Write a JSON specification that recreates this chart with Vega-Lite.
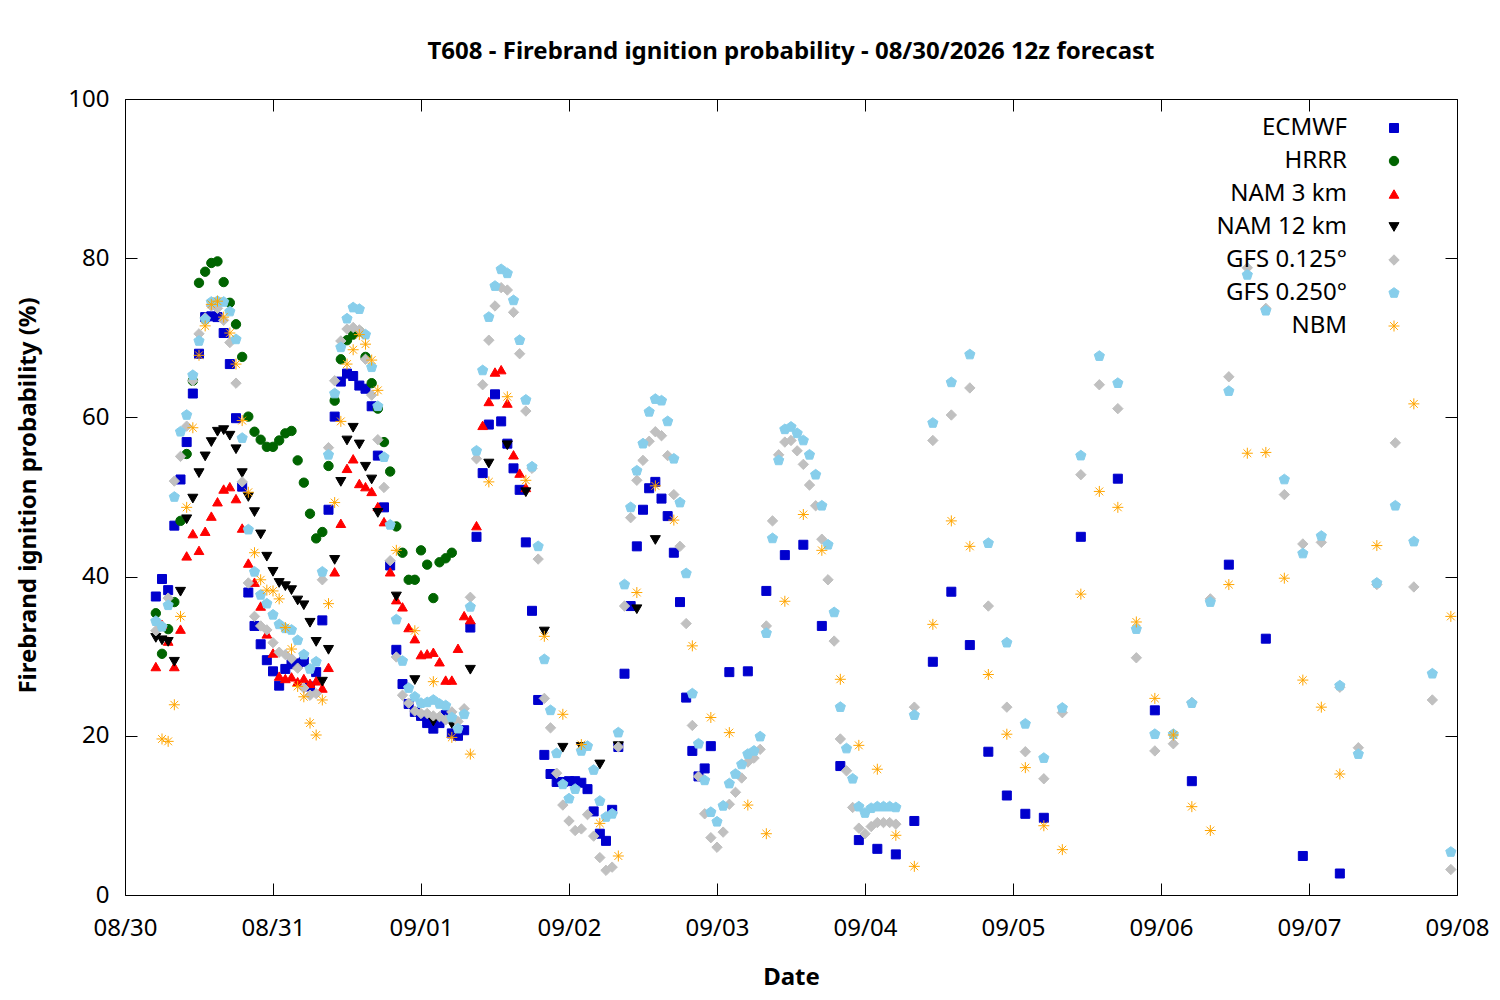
{
"$schema":"https://vega.github.io/schema/vega-lite/v6.json",
"width":1332,"height":796,"autosize":"none",
"padding":{"left":125,"top":99,"right":43,"bottom":105},
"title":{"text":"T608 - Firebrand ignition probability - 08/30/2026 12z forecast","fontSize":24,"fontWeight":"bold","anchor":"middle","offset":23,"color":"#000000"},
"config":{"font":"Noto Sans","view":{"stroke":"#000000","strokeWidth":1},
"legend":{"orient":"none","legendX":1257,"legendY":17,"title":null,"labelAlign":"right","labelOffset":-59,"labelFontSize":24,"labelColor":"#000000","rowPadding":9,"padding":0,"symbolStrokeWidth":1,"symbolOpacity":1,"labelLimit":300}},
"data":{"values":[
{"m":"ECMWF","h":5,"v":37.5},{"m":"ECMWF","h":6,"v":39.7},{"m":"ECMWF","h":7,"v":38.3},{"m":"ECMWF","h":8,"v":46.4},{"m":"ECMWF","h":9,"v":52.2},{"m":"ECMWF","h":10,"v":56.9},{"m":"ECMWF","h":11,"v":63.0},{"m":"ECMWF","h":12,"v":68.0},{"m":"ECMWF","h":13,"v":72.6},{"m":"ECMWF","h":14,"v":72.7},{"m":"ECMWF","h":15,"v":72.6},{"m":"ECMWF","h":16,"v":70.6},{"m":"ECMWF","h":17,"v":66.7},{"m":"ECMWF","h":18,"v":59.9},{"m":"ECMWF","h":19,"v":51.3},{"m":"ECMWF","h":20,"v":38.0},{"m":"ECMWF","h":21,"v":33.8},{"m":"ECMWF","h":22,"v":31.5},{"m":"ECMWF","h":23,"v":29.5},{"m":"ECMWF","h":24,"v":28.1},{"m":"ECMWF","h":25,"v":26.3},{"m":"ECMWF","h":26,"v":28.4},{"m":"ECMWF","h":27,"v":29.0},{"m":"ECMWF","h":28,"v":29.1},{"m":"ECMWF","h":29,"v":29.3},{"m":"ECMWF","h":30,"v":26.2},{"m":"ECMWF","h":31,"v":28.0},{"m":"ECMWF","h":32,"v":34.5},{"m":"ECMWF","h":33,"v":48.4},{"m":"ECMWF","h":34,"v":60.1},{"m":"ECMWF","h":35,"v":64.5},{"m":"ECMWF","h":36,"v":65.5},{"m":"ECMWF","h":37,"v":65.2},{"m":"ECMWF","h":38,"v":64.0},{"m":"ECMWF","h":39,"v":63.6},{"m":"ECMWF","h":40,"v":61.4},{"m":"ECMWF","h":41,"v":55.2},{"m":"ECMWF","h":42,"v":48.7},{"m":"ECMWF","h":43,"v":41.4},{"m":"ECMWF","h":44,"v":30.8},{"m":"ECMWF","h":45,"v":26.5},{"m":"ECMWF","h":46,"v":24.0},{"m":"ECMWF","h":47,"v":23.0},{"m":"ECMWF","h":48,"v":22.5},{"m":"ECMWF","h":49,"v":21.6},{"m":"ECMWF","h":50,"v":20.9},{"m":"ECMWF","h":51,"v":21.6},{"m":"ECMWF","h":52,"v":22.6},{"m":"ECMWF","h":53,"v":20.3},{"m":"ECMWF","h":54,"v":20.0},{"m":"ECMWF","h":55,"v":20.7},{"m":"ECMWF","h":56,"v":33.6},{"m":"ECMWF","h":57,"v":45.0},{"m":"ECMWF","h":58,"v":53.0},{"m":"ECMWF","h":59,"v":59.1},{"m":"ECMWF","h":60,"v":62.9},{"m":"ECMWF","h":61,"v":59.5},{"m":"ECMWF","h":62,"v":56.7},{"m":"ECMWF","h":63,"v":53.6},{"m":"ECMWF","h":64,"v":50.9},{"m":"ECMWF","h":65,"v":44.3},{"m":"ECMWF","h":66,"v":35.7},{"m":"ECMWF","h":67,"v":24.5},{"m":"ECMWF","h":68,"v":17.6},{"m":"ECMWF","h":69,"v":15.2},{"m":"ECMWF","h":70,"v":14.2},{"m":"ECMWF","h":71,"v":14.2},{"m":"ECMWF","h":72,"v":14.3},{"m":"ECMWF","h":73,"v":14.3},{"m":"ECMWF","h":74,"v":14.1},{"m":"ECMWF","h":75,"v":13.3},{"m":"ECMWF","h":76,"v":10.5},{"m":"ECMWF","h":77,"v":7.7},{"m":"ECMWF","h":78,"v":6.8},{"m":"ECMWF","h":79,"v":10.7},{"m":"ECMWF","h":80,"v":18.6},{"m":"ECMWF","h":81,"v":27.8},{"m":"ECMWF","h":82,"v":36.3},{"m":"ECMWF","h":83,"v":43.8},{"m":"ECMWF","h":84,"v":48.4},{"m":"ECMWF","h":85,"v":51.1},{"m":"ECMWF","h":86,"v":51.9},{"m":"ECMWF","h":87,"v":49.8},{"m":"ECMWF","h":88,"v":47.6},{"m":"ECMWF","h":89,"v":43.0},{"m":"ECMWF","h":90,"v":36.8},{"m":"ECMWF","h":91,"v":24.8},{"m":"ECMWF","h":92,"v":18.1},{"m":"ECMWF","h":93,"v":14.9},{"m":"ECMWF","h":94,"v":15.9},{"m":"ECMWF","h":95,"v":18.7},{"m":"ECMWF","h":98,"v":28.0},{"m":"ECMWF","h":101,"v":28.1},{"m":"ECMWF","h":104,"v":38.2},{"m":"ECMWF","h":107,"v":42.7},{"m":"ECMWF","h":110,"v":44.0},{"m":"ECMWF","h":113,"v":33.8},{"m":"ECMWF","h":116,"v":16.2},{"m":"ECMWF","h":119,"v":6.9},{"m":"ECMWF","h":122,"v":5.8},{"m":"ECMWF","h":125,"v":5.1},{"m":"ECMWF","h":128,"v":9.3},{"m":"ECMWF","h":131,"v":29.3},{"m":"ECMWF","h":134,"v":38.1},{"m":"ECMWF","h":137,"v":31.4},{"m":"ECMWF","h":140,"v":18.0},{"m":"ECMWF","h":143,"v":12.5},{"m":"ECMWF","h":146,"v":10.2},{"m":"ECMWF","h":149,"v":9.7},{"m":"ECMWF","h":155,"v":45.0},{"m":"ECMWF","h":161,"v":52.3},{"m":"ECMWF","h":167,"v":23.2},{"m":"ECMWF","h":173,"v":14.3},{"m":"ECMWF","h":179,"v":41.5},{"m":"ECMWF","h":185,"v":32.2},{"m":"ECMWF","h":191,"v":4.9},{"m":"ECMWF","h":197,"v":2.7},
{"m":"HRRR","h":5,"v":35.4},{"m":"HRRR","h":6,"v":30.3},{"m":"HRRR","h":7,"v":33.4},{"m":"HRRR","h":8,"v":36.8},{"m":"HRRR","h":9,"v":47.0},{"m":"HRRR","h":10,"v":55.4},{"m":"HRRR","h":11,"v":64.6},{"m":"HRRR","h":12,"v":76.9},{"m":"HRRR","h":13,"v":78.3},{"m":"HRRR","h":14,"v":79.4},{"m":"HRRR","h":15,"v":79.6},{"m":"HRRR","h":16,"v":77.0},{"m":"HRRR","h":17,"v":74.4},{"m":"HRRR","h":18,"v":71.7},{"m":"HRRR","h":19,"v":67.6},{"m":"HRRR","h":20,"v":60.1},{"m":"HRRR","h":21,"v":58.2},{"m":"HRRR","h":22,"v":57.2},{"m":"HRRR","h":23,"v":56.3},{"m":"HRRR","h":24,"v":56.3},{"m":"HRRR","h":25,"v":57.1},{"m":"HRRR","h":26,"v":58.0},{"m":"HRRR","h":27,"v":58.3},{"m":"HRRR","h":28,"v":54.6},{"m":"HRRR","h":29,"v":51.8},{"m":"HRRR","h":30,"v":47.9},{"m":"HRRR","h":31,"v":44.8},{"m":"HRRR","h":32,"v":45.6},{"m":"HRRR","h":33,"v":53.9},{"m":"HRRR","h":34,"v":62.1},{"m":"HRRR","h":35,"v":67.3},{"m":"HRRR","h":36,"v":69.7},{"m":"HRRR","h":37,"v":70.4},{"m":"HRRR","h":38,"v":70.8},{"m":"HRRR","h":39,"v":67.6},{"m":"HRRR","h":40,"v":64.3},{"m":"HRRR","h":41,"v":61.1},{"m":"HRRR","h":42,"v":56.9},{"m":"HRRR","h":43,"v":53.2},{"m":"HRRR","h":44,"v":46.3},{"m":"HRRR","h":45,"v":43.0},{"m":"HRRR","h":46,"v":39.6},{"m":"HRRR","h":47,"v":39.6},{"m":"HRRR","h":48,"v":43.3},{"m":"HRRR","h":49,"v":41.5},{"m":"HRRR","h":50,"v":37.3},{"m":"HRRR","h":51,"v":41.8},{"m":"HRRR","h":52,"v":42.3},{"m":"HRRR","h":53,"v":43.0},
{"m":"NAM 3 km","h":5,"v":28.7},{"m":"NAM 3 km","h":6,"v":34.0},{"m":"NAM 3 km","h":7,"v":31.9},{"m":"NAM 3 km","h":8,"v":28.7},{"m":"NAM 3 km","h":9,"v":33.4},{"m":"NAM 3 km","h":10,"v":42.6},{"m":"NAM 3 km","h":11,"v":45.4},{"m":"NAM 3 km","h":12,"v":43.3},{"m":"NAM 3 km","h":13,"v":45.7},{"m":"NAM 3 km","h":14,"v":47.6},{"m":"NAM 3 km","h":15,"v":49.4},{"m":"NAM 3 km","h":16,"v":51.0},{"m":"NAM 3 km","h":17,"v":51.3},{"m":"NAM 3 km","h":18,"v":49.8},{"m":"NAM 3 km","h":19,"v":46.1},{"m":"NAM 3 km","h":20,"v":41.7},{"m":"NAM 3 km","h":21,"v":39.3},{"m":"NAM 3 km","h":22,"v":36.3},{"m":"NAM 3 km","h":23,"v":32.8},{"m":"NAM 3 km","h":24,"v":30.4},{"m":"NAM 3 km","h":25,"v":27.5},{"m":"NAM 3 km","h":26,"v":27.2},{"m":"NAM 3 km","h":27,"v":27.4},{"m":"NAM 3 km","h":28,"v":26.8},{"m":"NAM 3 km","h":29,"v":27.2},{"m":"NAM 3 km","h":30,"v":26.6},{"m":"NAM 3 km","h":31,"v":26.9},{"m":"NAM 3 km","h":32,"v":26.0},{"m":"NAM 3 km","h":33,"v":28.6},{"m":"NAM 3 km","h":34,"v":40.6},{"m":"NAM 3 km","h":35,"v":46.7},{"m":"NAM 3 km","h":36,"v":53.6},{"m":"NAM 3 km","h":37,"v":54.8},{"m":"NAM 3 km","h":38,"v":51.7},{"m":"NAM 3 km","h":39,"v":51.3},{"m":"NAM 3 km","h":40,"v":50.7},{"m":"NAM 3 km","h":41,"v":48.8},{"m":"NAM 3 km","h":42,"v":46.9},{"m":"NAM 3 km","h":43,"v":40.6},{"m":"NAM 3 km","h":44,"v":37.1},{"m":"NAM 3 km","h":45,"v":36.2},{"m":"NAM 3 km","h":46,"v":33.6},{"m":"NAM 3 km","h":47,"v":32.2},{"m":"NAM 3 km","h":48,"v":30.2},{"m":"NAM 3 km","h":49,"v":30.3},{"m":"NAM 3 km","h":50,"v":30.5},{"m":"NAM 3 km","h":51,"v":29.3},{"m":"NAM 3 km","h":52,"v":27.0},{"m":"NAM 3 km","h":53,"v":27.0},{"m":"NAM 3 km","h":54,"v":31.0},{"m":"NAM 3 km","h":55,"v":35.1},{"m":"NAM 3 km","h":56,"v":34.6},{"m":"NAM 3 km","h":57,"v":46.4},{"m":"NAM 3 km","h":58,"v":59.0},{"m":"NAM 3 km","h":59,"v":62.0},{"m":"NAM 3 km","h":60,"v":65.7},{"m":"NAM 3 km","h":61,"v":66.0},{"m":"NAM 3 km","h":62,"v":61.8},{"m":"NAM 3 km","h":63,"v":55.3},{"m":"NAM 3 km","h":64,"v":53.0},{"m":"NAM 3 km","h":65,"v":51.2},
{"m":"NAM 12 km","h":5,"v":32.3},{"m":"NAM 12 km","h":6,"v":32.0},{"m":"NAM 12 km","h":7,"v":31.8},{"m":"NAM 12 km","h":8,"v":29.3},{"m":"NAM 12 km","h":9,"v":38.1},{"m":"NAM 12 km","h":10,"v":47.2},{"m":"NAM 12 km","h":11,"v":49.8},{"m":"NAM 12 km","h":12,"v":53.0},{"m":"NAM 12 km","h":13,"v":55.1},{"m":"NAM 12 km","h":14,"v":56.9},{"m":"NAM 12 km","h":15,"v":58.2},{"m":"NAM 12 km","h":16,"v":58.4},{"m":"NAM 12 km","h":17,"v":57.7},{"m":"NAM 12 km","h":18,"v":56.0},{"m":"NAM 12 km","h":19,"v":53.0},{"m":"NAM 12 km","h":20,"v":50.0},{"m":"NAM 12 km","h":21,"v":48.1},{"m":"NAM 12 km","h":22,"v":45.3},{"m":"NAM 12 km","h":23,"v":42.5},{"m":"NAM 12 km","h":24,"v":40.6},{"m":"NAM 12 km","h":25,"v":39.2},{"m":"NAM 12 km","h":26,"v":38.8},{"m":"NAM 12 km","h":27,"v":38.3},{"m":"NAM 12 km","h":28,"v":37.0},{"m":"NAM 12 km","h":29,"v":36.4},{"m":"NAM 12 km","h":30,"v":34.2},{"m":"NAM 12 km","h":31,"v":31.8},{"m":"NAM 12 km","h":32,"v":26.8},{"m":"NAM 12 km","h":33,"v":30.8},{"m":"NAM 12 km","h":34,"v":42.1},{"m":"NAM 12 km","h":35,"v":51.9},{"m":"NAM 12 km","h":36,"v":57.1},{"m":"NAM 12 km","h":37,"v":58.7},{"m":"NAM 12 km","h":38,"v":56.6},{"m":"NAM 12 km","h":39,"v":53.8},{"m":"NAM 12 km","h":40,"v":52.2},{"m":"NAM 12 km","h":41,"v":48.0},{"m":"NAM 12 km","h":44,"v":37.5},{"m":"NAM 12 km","h":47,"v":27.0},{"m":"NAM 12 km","h":50,"v":21.8},{"m":"NAM 12 km","h":53,"v":21.5},{"m":"NAM 12 km","h":56,"v":28.3},{"m":"NAM 12 km","h":59,"v":54.2},{"m":"NAM 12 km","h":62,"v":56.5},{"m":"NAM 12 km","h":65,"v":50.6},{"m":"NAM 12 km","h":68,"v":33.1},{"m":"NAM 12 km","h":71,"v":18.5},{"m":"NAM 12 km","h":74,"v":18.6},{"m":"NAM 12 km","h":77,"v":16.4},{"m":"NAM 12 km","h":80,"v":18.7},{"m":"NAM 12 km","h":83,"v":35.9},{"m":"NAM 12 km","h":86,"v":44.6},
{"m":"GFS 0.125°","h":5,"v":33.2},{"m":"GFS 0.125°","h":6,"v":33.8},{"m":"GFS 0.125°","h":7,"v":37.3},{"m":"GFS 0.125°","h":8,"v":52.0},{"m":"GFS 0.125°","h":9,"v":55.1},{"m":"GFS 0.125°","h":10,"v":58.9},{"m":"GFS 0.125°","h":11,"v":64.6},{"m":"GFS 0.125°","h":12,"v":70.5},{"m":"GFS 0.125°","h":13,"v":72.5},{"m":"GFS 0.125°","h":14,"v":74.0},{"m":"GFS 0.125°","h":15,"v":73.7},{"m":"GFS 0.125°","h":16,"v":72.2},{"m":"GFS 0.125°","h":17,"v":69.4},{"m":"GFS 0.125°","h":18,"v":64.3},{"m":"GFS 0.125°","h":19,"v":51.9},{"m":"GFS 0.125°","h":20,"v":39.2},{"m":"GFS 0.125°","h":21,"v":35.0},{"m":"GFS 0.125°","h":22,"v":33.8},{"m":"GFS 0.125°","h":23,"v":33.3},{"m":"GFS 0.125°","h":24,"v":31.7},{"m":"GFS 0.125°","h":25,"v":30.5},{"m":"GFS 0.125°","h":26,"v":30.2},{"m":"GFS 0.125°","h":27,"v":29.7},{"m":"GFS 0.125°","h":28,"v":28.5},{"m":"GFS 0.125°","h":29,"v":26.0},{"m":"GFS 0.125°","h":30,"v":25.1},{"m":"GFS 0.125°","h":31,"v":25.3},{"m":"GFS 0.125°","h":32,"v":39.6},{"m":"GFS 0.125°","h":33,"v":56.2},{"m":"GFS 0.125°","h":34,"v":64.6},{"m":"GFS 0.125°","h":35,"v":69.6},{"m":"GFS 0.125°","h":36,"v":71.1},{"m":"GFS 0.125°","h":37,"v":71.3},{"m":"GFS 0.125°","h":38,"v":71.0},{"m":"GFS 0.125°","h":39,"v":67.3},{"m":"GFS 0.125°","h":40,"v":62.8},{"m":"GFS 0.125°","h":41,"v":57.2},{"m":"GFS 0.125°","h":42,"v":51.2},{"m":"GFS 0.125°","h":43,"v":42.0},{"m":"GFS 0.125°","h":44,"v":29.9},{"m":"GFS 0.125°","h":45,"v":25.1},{"m":"GFS 0.125°","h":46,"v":24.1},{"m":"GFS 0.125°","h":47,"v":23.1},{"m":"GFS 0.125°","h":48,"v":22.8},{"m":"GFS 0.125°","h":49,"v":22.8},{"m":"GFS 0.125°","h":50,"v":22.5},{"m":"GFS 0.125°","h":51,"v":22.4},{"m":"GFS 0.125°","h":52,"v":22.0},{"m":"GFS 0.125°","h":53,"v":23.0},{"m":"GFS 0.125°","h":54,"v":21.8},{"m":"GFS 0.125°","h":55,"v":23.4},{"m":"GFS 0.125°","h":56,"v":37.4},{"m":"GFS 0.125°","h":57,"v":54.8},{"m":"GFS 0.125°","h":58,"v":64.1},{"m":"GFS 0.125°","h":59,"v":69.7},{"m":"GFS 0.125°","h":60,"v":74.0},{"m":"GFS 0.125°","h":61,"v":76.3},{"m":"GFS 0.125°","h":62,"v":76.0},{"m":"GFS 0.125°","h":63,"v":73.2},{"m":"GFS 0.125°","h":64,"v":68.0},{"m":"GFS 0.125°","h":65,"v":60.8},{"m":"GFS 0.125°","h":66,"v":53.6},{"m":"GFS 0.125°","h":67,"v":42.2},{"m":"GFS 0.125°","h":68,"v":24.7},{"m":"GFS 0.125°","h":69,"v":21.0},{"m":"GFS 0.125°","h":70,"v":15.3},{"m":"GFS 0.125°","h":71,"v":11.3},{"m":"GFS 0.125°","h":72,"v":9.3},{"m":"GFS 0.125°","h":73,"v":8.1},{"m":"GFS 0.125°","h":74,"v":8.3},{"m":"GFS 0.125°","h":75,"v":10.1},{"m":"GFS 0.125°","h":76,"v":7.4},{"m":"GFS 0.125°","h":77,"v":4.7},{"m":"GFS 0.125°","h":78,"v":3.1},{"m":"GFS 0.125°","h":79,"v":3.5},{"m":"GFS 0.125°","h":80,"v":18.6},{"m":"GFS 0.125°","h":81,"v":36.3},{"m":"GFS 0.125°","h":82,"v":47.4},{"m":"GFS 0.125°","h":83,"v":52.1},{"m":"GFS 0.125°","h":84,"v":54.6},{"m":"GFS 0.125°","h":85,"v":57.0},{"m":"GFS 0.125°","h":86,"v":58.2},{"m":"GFS 0.125°","h":87,"v":57.7},{"m":"GFS 0.125°","h":88,"v":55.2},{"m":"GFS 0.125°","h":89,"v":50.3},{"m":"GFS 0.125°","h":90,"v":43.8},{"m":"GFS 0.125°","h":91,"v":34.1},{"m":"GFS 0.125°","h":92,"v":21.3},{"m":"GFS 0.125°","h":93,"v":14.9},{"m":"GFS 0.125°","h":94,"v":10.2},{"m":"GFS 0.125°","h":95,"v":7.2},{"m":"GFS 0.125°","h":96,"v":6.0},{"m":"GFS 0.125°","h":97,"v":7.9},{"m":"GFS 0.125°","h":98,"v":11.4},{"m":"GFS 0.125°","h":99,"v":12.9},{"m":"GFS 0.125°","h":100,"v":14.7},{"m":"GFS 0.125°","h":101,"v":16.7},{"m":"GFS 0.125°","h":102,"v":17.2},{"m":"GFS 0.125°","h":103,"v":18.3},{"m":"GFS 0.125°","h":104,"v":33.8},{"m":"GFS 0.125°","h":105,"v":47.0},{"m":"GFS 0.125°","h":106,"v":55.3},{"m":"GFS 0.125°","h":107,"v":56.9},{"m":"GFS 0.125°","h":108,"v":57.1},{"m":"GFS 0.125°","h":109,"v":55.8},{"m":"GFS 0.125°","h":110,"v":54.1},{"m":"GFS 0.125°","h":111,"v":51.5},{"m":"GFS 0.125°","h":112,"v":48.9},{"m":"GFS 0.125°","h":113,"v":44.7},{"m":"GFS 0.125°","h":114,"v":39.6},{"m":"GFS 0.125°","h":115,"v":31.9},{"m":"GFS 0.125°","h":116,"v":19.6},{"m":"GFS 0.125°","h":117,"v":15.6},{"m":"GFS 0.125°","h":118,"v":11.0},{"m":"GFS 0.125°","h":119,"v":8.4},{"m":"GFS 0.125°","h":120,"v":7.7},{"m":"GFS 0.125°","h":121,"v":8.6},{"m":"GFS 0.125°","h":122,"v":9.1},{"m":"GFS 0.125°","h":123,"v":9.1},{"m":"GFS 0.125°","h":124,"v":9.1},{"m":"GFS 0.125°","h":125,"v":8.9},{"m":"GFS 0.125°","h":128,"v":23.6},{"m":"GFS 0.125°","h":131,"v":57.1},{"m":"GFS 0.125°","h":134,"v":60.3},{"m":"GFS 0.125°","h":137,"v":63.7},{"m":"GFS 0.125°","h":140,"v":36.3},{"m":"GFS 0.125°","h":143,"v":23.6},{"m":"GFS 0.125°","h":146,"v":18.0},{"m":"GFS 0.125°","h":149,"v":14.6},{"m":"GFS 0.125°","h":152,"v":22.9},{"m":"GFS 0.125°","h":155,"v":52.8},{"m":"GFS 0.125°","h":158,"v":64.1},{"m":"GFS 0.125°","h":161,"v":61.1},{"m":"GFS 0.125°","h":164,"v":29.8},{"m":"GFS 0.125°","h":167,"v":18.1},{"m":"GFS 0.125°","h":170,"v":19.0},{"m":"GFS 0.125°","h":173,"v":24.2},{"m":"GFS 0.125°","h":176,"v":37.2},{"m":"GFS 0.125°","h":179,"v":65.1},{"m":"GFS 0.125°","h":182,"v":78.8},{"m":"GFS 0.125°","h":185,"v":73.7},{"m":"GFS 0.125°","h":188,"v":50.3},{"m":"GFS 0.125°","h":191,"v":44.1},{"m":"GFS 0.125°","h":194,"v":44.3},{"m":"GFS 0.125°","h":197,"v":26.1},{"m":"GFS 0.125°","h":200,"v":18.5},{"m":"GFS 0.125°","h":203,"v":39.0},{"m":"GFS 0.125°","h":206,"v":56.8},{"m":"GFS 0.125°","h":209,"v":38.7},{"m":"GFS 0.125°","h":212,"v":24.5},{"m":"GFS 0.125°","h":215,"v":3.2},
{"m":"GFS 0.250°","h":5,"v":34.4},{"m":"GFS 0.250°","h":6,"v":33.7},{"m":"GFS 0.250°","h":7,"v":36.4},{"m":"GFS 0.250°","h":8,"v":50.0},{"m":"GFS 0.250°","h":9,"v":58.2},{"m":"GFS 0.250°","h":10,"v":60.3},{"m":"GFS 0.250°","h":11,"v":65.3},{"m":"GFS 0.250°","h":12,"v":69.6},{"m":"GFS 0.250°","h":13,"v":72.3},{"m":"GFS 0.250°","h":14,"v":74.5},{"m":"GFS 0.250°","h":15,"v":74.6},{"m":"GFS 0.250°","h":16,"v":74.5},{"m":"GFS 0.250°","h":17,"v":73.3},{"m":"GFS 0.250°","h":18,"v":69.8},{"m":"GFS 0.250°","h":19,"v":57.4},{"m":"GFS 0.250°","h":20,"v":45.9},{"m":"GFS 0.250°","h":21,"v":40.6},{"m":"GFS 0.250°","h":22,"v":37.7},{"m":"GFS 0.250°","h":23,"v":36.6},{"m":"GFS 0.250°","h":24,"v":35.2},{"m":"GFS 0.250°","h":25,"v":34.0},{"m":"GFS 0.250°","h":26,"v":33.5},{"m":"GFS 0.250°","h":27,"v":33.3},{"m":"GFS 0.250°","h":28,"v":32.0},{"m":"GFS 0.250°","h":29,"v":30.2},{"m":"GFS 0.250°","h":30,"v":28.4},{"m":"GFS 0.250°","h":31,"v":29.3},{"m":"GFS 0.250°","h":32,"v":40.6},{"m":"GFS 0.250°","h":33,"v":55.3},{"m":"GFS 0.250°","h":34,"v":63.0},{"m":"GFS 0.250°","h":35,"v":68.8},{"m":"GFS 0.250°","h":36,"v":72.4},{"m":"GFS 0.250°","h":37,"v":73.8},{"m":"GFS 0.250°","h":38,"v":73.6},{"m":"GFS 0.250°","h":39,"v":70.4},{"m":"GFS 0.250°","h":40,"v":66.3},{"m":"GFS 0.250°","h":41,"v":61.4},{"m":"GFS 0.250°","h":42,"v":55.0},{"m":"GFS 0.250°","h":43,"v":46.5},{"m":"GFS 0.250°","h":44,"v":34.6},{"m":"GFS 0.250°","h":45,"v":29.4},{"m":"GFS 0.250°","h":46,"v":26.0},{"m":"GFS 0.250°","h":47,"v":24.9},{"m":"GFS 0.250°","h":48,"v":24.1},{"m":"GFS 0.250°","h":49,"v":24.2},{"m":"GFS 0.250°","h":50,"v":24.5},{"m":"GFS 0.250°","h":51,"v":24.0},{"m":"GFS 0.250°","h":52,"v":23.8},{"m":"GFS 0.250°","h":53,"v":22.3},{"m":"GFS 0.250°","h":54,"v":20.9},{"m":"GFS 0.250°","h":55,"v":22.7},{"m":"GFS 0.250°","h":56,"v":36.2},{"m":"GFS 0.250°","h":57,"v":55.8},{"m":"GFS 0.250°","h":58,"v":65.9},{"m":"GFS 0.250°","h":59,"v":72.6},{"m":"GFS 0.250°","h":60,"v":76.5},{"m":"GFS 0.250°","h":61,"v":78.6},{"m":"GFS 0.250°","h":62,"v":78.1},{"m":"GFS 0.250°","h":63,"v":74.7},{"m":"GFS 0.250°","h":64,"v":69.7},{"m":"GFS 0.250°","h":65,"v":62.2},{"m":"GFS 0.250°","h":66,"v":53.8},{"m":"GFS 0.250°","h":67,"v":43.8},{"m":"GFS 0.250°","h":68,"v":29.6},{"m":"GFS 0.250°","h":69,"v":23.2},{"m":"GFS 0.250°","h":70,"v":17.8},{"m":"GFS 0.250°","h":71,"v":13.9},{"m":"GFS 0.250°","h":72,"v":12.1},{"m":"GFS 0.250°","h":73,"v":13.3},{"m":"GFS 0.250°","h":74,"v":18.1},{"m":"GFS 0.250°","h":75,"v":18.7},{"m":"GFS 0.250°","h":76,"v":15.7},{"m":"GFS 0.250°","h":77,"v":11.8},{"m":"GFS 0.250°","h":78,"v":9.8},{"m":"GFS 0.250°","h":79,"v":10.2},{"m":"GFS 0.250°","h":80,"v":20.4},{"m":"GFS 0.250°","h":81,"v":39.0},{"m":"GFS 0.250°","h":82,"v":48.7},{"m":"GFS 0.250°","h":83,"v":53.3},{"m":"GFS 0.250°","h":84,"v":56.7},{"m":"GFS 0.250°","h":85,"v":60.7},{"m":"GFS 0.250°","h":86,"v":62.3},{"m":"GFS 0.250°","h":87,"v":62.1},{"m":"GFS 0.250°","h":88,"v":59.5},{"m":"GFS 0.250°","h":89,"v":54.8},{"m":"GFS 0.250°","h":90,"v":49.3},{"m":"GFS 0.250°","h":91,"v":40.4},{"m":"GFS 0.250°","h":92,"v":25.3},{"m":"GFS 0.250°","h":93,"v":19.0},{"m":"GFS 0.250°","h":94,"v":14.4},{"m":"GFS 0.250°","h":95,"v":10.4},{"m":"GFS 0.250°","h":96,"v":9.2},{"m":"GFS 0.250°","h":97,"v":11.2},{"m":"GFS 0.250°","h":98,"v":14.0},{"m":"GFS 0.250°","h":99,"v":15.2},{"m":"GFS 0.250°","h":100,"v":16.4},{"m":"GFS 0.250°","h":101,"v":17.7},{"m":"GFS 0.250°","h":102,"v":18.1},{"m":"GFS 0.250°","h":103,"v":19.9},{"m":"GFS 0.250°","h":104,"v":32.9},{"m":"GFS 0.250°","h":105,"v":44.8},{"m":"GFS 0.250°","h":106,"v":54.6},{"m":"GFS 0.250°","h":107,"v":58.5},{"m":"GFS 0.250°","h":108,"v":58.8},{"m":"GFS 0.250°","h":109,"v":58.0},{"m":"GFS 0.250°","h":110,"v":57.1},{"m":"GFS 0.250°","h":111,"v":55.3},{"m":"GFS 0.250°","h":112,"v":52.8},{"m":"GFS 0.250°","h":113,"v":48.9},{"m":"GFS 0.250°","h":114,"v":44.0},{"m":"GFS 0.250°","h":115,"v":35.5},{"m":"GFS 0.250°","h":116,"v":23.6},{"m":"GFS 0.250°","h":117,"v":18.4},{"m":"GFS 0.250°","h":118,"v":14.6},{"m":"GFS 0.250°","h":119,"v":11.1},{"m":"GFS 0.250°","h":120,"v":10.3},{"m":"GFS 0.250°","h":121,"v":10.9},{"m":"GFS 0.250°","h":122,"v":11.1},{"m":"GFS 0.250°","h":123,"v":11.1},{"m":"GFS 0.250°","h":124,"v":11.1},{"m":"GFS 0.250°","h":125,"v":11.0},{"m":"GFS 0.250°","h":128,"v":22.6},{"m":"GFS 0.250°","h":131,"v":59.3},{"m":"GFS 0.250°","h":134,"v":64.4},{"m":"GFS 0.250°","h":137,"v":67.9},{"m":"GFS 0.250°","h":140,"v":44.2},{"m":"GFS 0.250°","h":143,"v":31.7},{"m":"GFS 0.250°","h":146,"v":21.5},{"m":"GFS 0.250°","h":149,"v":17.2},{"m":"GFS 0.250°","h":152,"v":23.5},{"m":"GFS 0.250°","h":155,"v":55.2},{"m":"GFS 0.250°","h":158,"v":67.7},{"m":"GFS 0.250°","h":161,"v":64.3},{"m":"GFS 0.250°","h":164,"v":33.4},{"m":"GFS 0.250°","h":167,"v":20.2},{"m":"GFS 0.250°","h":170,"v":20.2},{"m":"GFS 0.250°","h":173,"v":24.1},{"m":"GFS 0.250°","h":176,"v":36.8},{"m":"GFS 0.250°","h":179,"v":63.3},{"m":"GFS 0.250°","h":182,"v":77.9},{"m":"GFS 0.250°","h":185,"v":73.4},{"m":"GFS 0.250°","h":188,"v":52.2},{"m":"GFS 0.250°","h":191,"v":42.9},{"m":"GFS 0.250°","h":194,"v":45.1},{"m":"GFS 0.250°","h":197,"v":26.3},{"m":"GFS 0.250°","h":200,"v":17.7},{"m":"GFS 0.250°","h":203,"v":39.2},{"m":"GFS 0.250°","h":206,"v":48.9},{"m":"GFS 0.250°","h":209,"v":44.4},{"m":"GFS 0.250°","h":212,"v":27.8},{"m":"GFS 0.250°","h":215,"v":5.4},
{"m":"NBM","h":6,"v":19.6},{"m":"NBM","h":7,"v":19.3},{"m":"NBM","h":8,"v":23.9},{"m":"NBM","h":9,"v":35.0},{"m":"NBM","h":10,"v":48.7},{"m":"NBM","h":11,"v":58.7},{"m":"NBM","h":12,"v":67.8},{"m":"NBM","h":13,"v":71.5},{"m":"NBM","h":14,"v":74.2},{"m":"NBM","h":15,"v":74.6},{"m":"NBM","h":16,"v":72.6},{"m":"NBM","h":17,"v":70.6},{"m":"NBM","h":18,"v":66.7},{"m":"NBM","h":19,"v":59.6},{"m":"NBM","h":20,"v":50.6},{"m":"NBM","h":21,"v":43.0},{"m":"NBM","h":22,"v":39.6},{"m":"NBM","h":23,"v":38.3},{"m":"NBM","h":24,"v":38.2},{"m":"NBM","h":25,"v":37.2},{"m":"NBM","h":26,"v":33.6},{"m":"NBM","h":27,"v":30.9},{"m":"NBM","h":28,"v":26.2},{"m":"NBM","h":29,"v":24.9},{"m":"NBM","h":30,"v":21.6},{"m":"NBM","h":31,"v":20.1},{"m":"NBM","h":32,"v":24.5},{"m":"NBM","h":33,"v":36.6},{"m":"NBM","h":34,"v":49.3},{"m":"NBM","h":35,"v":59.5},{"m":"NBM","h":36,"v":66.7},{"m":"NBM","h":37,"v":68.5},{"m":"NBM","h":38,"v":70.4},{"m":"NBM","h":39,"v":69.2},{"m":"NBM","h":40,"v":67.2},{"m":"NBM","h":41,"v":63.4},{"m":"NBM","h":44,"v":43.3},{"m":"NBM","h":47,"v":33.2},{"m":"NBM","h":50,"v":26.8},{"m":"NBM","h":53,"v":19.8},{"m":"NBM","h":56,"v":17.7},{"m":"NBM","h":59,"v":51.9},{"m":"NBM","h":62,"v":62.6},{"m":"NBM","h":65,"v":52.1},{"m":"NBM","h":68,"v":32.5},{"m":"NBM","h":71,"v":22.7},{"m":"NBM","h":74,"v":18.9},{"m":"NBM","h":77,"v":9.0},{"m":"NBM","h":80,"v":4.9},{"m":"NBM","h":83,"v":38.0},{"m":"NBM","h":86,"v":51.4},{"m":"NBM","h":89,"v":47.1},{"m":"NBM","h":92,"v":31.3},{"m":"NBM","h":95,"v":22.3},{"m":"NBM","h":98,"v":20.4},{"m":"NBM","h":101,"v":11.3},{"m":"NBM","h":104,"v":7.7},{"m":"NBM","h":107,"v":36.9},{"m":"NBM","h":110,"v":47.8},{"m":"NBM","h":113,"v":43.3},{"m":"NBM","h":116,"v":27.1},{"m":"NBM","h":119,"v":18.8},{"m":"NBM","h":122,"v":15.8},{"m":"NBM","h":125,"v":7.5},{"m":"NBM","h":128,"v":3.6},{"m":"NBM","h":131,"v":34.0},{"m":"NBM","h":134,"v":47.0},{"m":"NBM","h":137,"v":43.8},{"m":"NBM","h":140,"v":27.7},{"m":"NBM","h":143,"v":20.2},{"m":"NBM","h":146,"v":16.0},{"m":"NBM","h":149,"v":8.7},{"m":"NBM","h":152,"v":5.7},{"m":"NBM","h":155,"v":37.8},{"m":"NBM","h":158,"v":50.7},{"m":"NBM","h":161,"v":48.7},{"m":"NBM","h":164,"v":34.3},{"m":"NBM","h":167,"v":24.7},{"m":"NBM","h":170,"v":20.1},{"m":"NBM","h":173,"v":11.1},{"m":"NBM","h":176,"v":8.1},{"m":"NBM","h":179,"v":39.0},{"m":"NBM","h":182,"v":55.5},{"m":"NBM","h":185,"v":55.6},{"m":"NBM","h":188,"v":39.8},{"m":"NBM","h":191,"v":27.0},{"m":"NBM","h":194,"v":23.6},{"m":"NBM","h":197,"v":15.2},{"m":"NBM","h":203,"v":43.9},{"m":"NBM","h":209,"v":61.7},{"m":"NBM","h":215,"v":35.0}
]},
"layer":[
{"mark":{"type":"point","filled":true,"opacity":1,"strokeWidth":1},
"encoding":{
"x":{"field":"h","type":"quantitative","scale":{"domain":[0,216],"nice":false,"zero":false},
"axis":{"values":[0,24,48,72,96,120,144,168,192,216],"labelExpr":"['08/30','08/31','09/01','09/02','09/03','09/04','09/05','09/06','09/07','09/08'][round(datum.value/24)]","tickSize":-12,"tickColor":"#000000","labelPadding":33,"labelFontSize":24,"labelColor":"#000000","labelFlush":false,"labelOverlap":false,"domain":false,"grid":false,"title":"Date","titleX":666,"titleY":82,"titleBaseline":"middle","titleAlign":"center","titleFontSize":24,"titleFontWeight":"bold","titleColor":"#000000"}},
"y":{"field":"v","type":"quantitative","scale":{"domain":[0,100],"nice":false},
"axis":{"values":[0,20,40,60,80,100],"tickSize":-12,"tickColor":"#000000","labelPadding":28,"labelFontSize":24,"labelColor":"#000000","labelFlush":false,"domain":false,"grid":false,"title":"Firebrand ignition probability (%)","titleX":-97,"titleY":396,"titleAngle":-90,"titleAlign":"center","titleBaseline":"middle","titleFontSize":24,"titleFontWeight":"bold","titleColor":"#000000"}},
"shape":{"field":"m","type":"nominal","scale":{"domain":["ECMWF","HRRR","NAM 3 km","NAM 12 km","GFS 0.125°","GFS 0.250°","NBM"],"range":["square","circle","triangle-up","triangle-down","diamond","M0,-1L0.951,-0.309L0.588,0.809L-0.588,0.809L-0.951,-0.309Z","M-1,0L1,0M0,-1L0,1M-0.707,-0.707L0.707,0.707M-0.707,0.707L0.707,-0.707"]}},
"fill":{"field":"m","type":"nominal","scale":{"domain":["ECMWF","HRRR","NAM 3 km","NAM 12 km","GFS 0.125°","GFS 0.250°","NBM"],"range":["#0000cd","#006400","#ff0000","#000000","#c0c0c0","#87ceeb","#ffa500"]}},
"stroke":{"field":"m","type":"nominal","scale":{"domain":["ECMWF","HRRR","NAM 3 km","NAM 12 km","GFS 0.125°","GFS 0.250°","NBM"],"range":["#0000cd","#006400","#ff0000","#000000","#c0c0c0","#87ceeb","#ffa500"]}},
"size":{"field":"m","type":"nominal","scale":{"domain":["ECMWF","HRRR","NAM 3 km","NAM 12 km","GFS 0.125°","GFS 0.250°","NBM"],"range":[81,121,130,130,121,130,169]}}
}},
{"mark":{"type":"point","opacity":0},
"encoding":{
"x":{"field":"h","type":"quantitative","axis":{"orient":"top","values":[0,24,48,72,96,120,144,168,192,216],"labels":false,"tickSize":-12,"tickColor":"#000000","domain":false,"grid":false,"title":null}},
"y":{"field":"v","type":"quantitative","axis":{"orient":"right","values":[0,20,40,60,80,100],"labels":false,"tickSize":-12,"tickColor":"#000000","domain":false,"grid":false,"title":null}}
}}
],
"resolve":{"axis":{"x":"independent","y":"independent"}}
}
